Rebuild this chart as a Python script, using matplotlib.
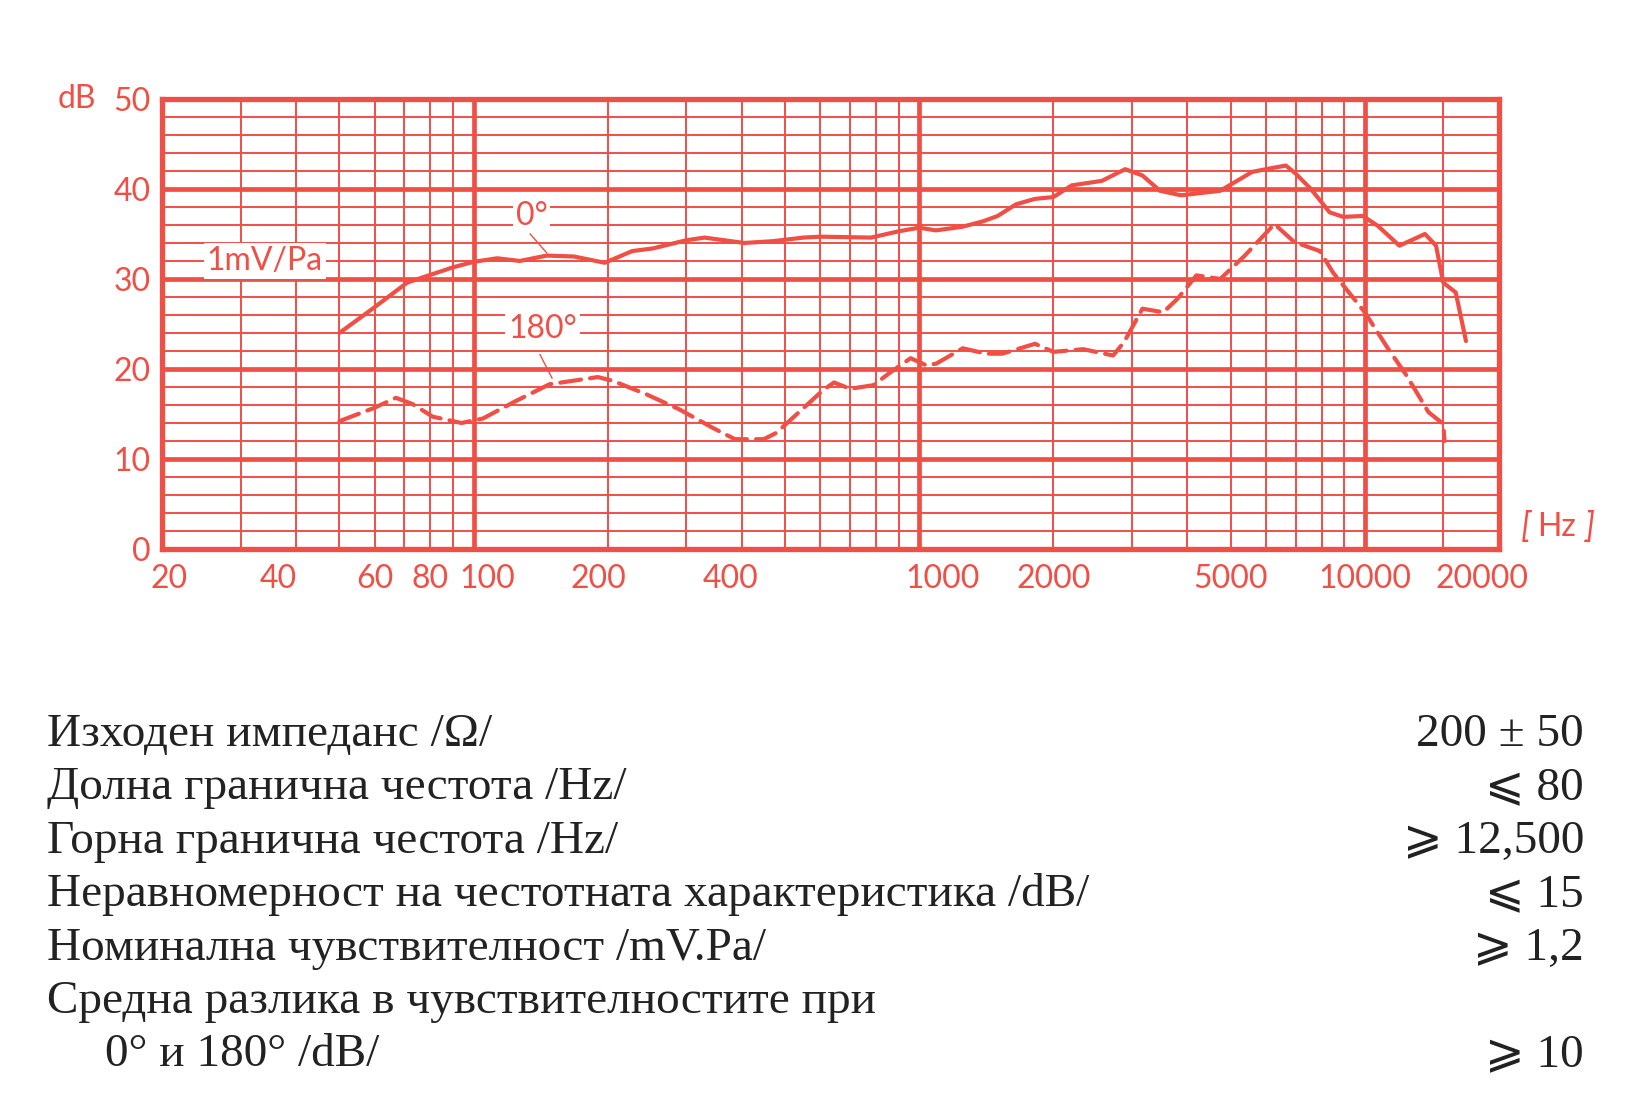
import matplotlib
matplotlib.use('Agg')
import matplotlib.pyplot as plt
import matplotlib.transforms as mtransforms
from matplotlib.ticker import NullLocator

RED = '#f04f46'
INK = '#222222'

# 0 deg response
freq_0 = [50, 59, 71, 90, 100, 113, 127, 146, 168, 197, 227, 253, 300, 330,
          405, 470, 550, 600, 780, 900, 1000, 1090, 1250, 1390, 1500, 1650,
          1820, 2000, 2200, 2570, 2900, 3170, 3470, 3870, 4740, 5590, 6150,
          6650, 7000, 7570, 8340, 8950, 9900, 10700, 11960, 13650, 14450,
          15000, 16000, 16870]
db_0 = [24.0, 26.6, 29.6, 31.3, 31.9, 32.3, 32.0, 32.6, 32.5, 31.8, 33.1,
        33.4, 34.3, 34.6, 34.0, 34.2, 34.6, 34.7, 34.6, 35.3, 35.7, 35.4,
        35.8, 36.4, 37.0, 38.3, 38.9, 39.1, 40.4, 40.9, 42.2, 41.5, 39.8,
        39.3, 39.8, 41.9, 42.3, 42.6, 41.7, 40.0, 37.4, 36.9, 37.0, 35.9,
        33.7, 35.0, 33.7, 29.6, 28.5, 23.1]

# 180 deg response
freq_180 = [50, 60, 67, 73, 81, 94, 105, 124, 148, 190, 205, 244, 290, 343,
            386, 448, 478, 543, 607, 644, 700, 790, 855, 957, 1038, 1093,
            1253, 1412, 1537, 1820, 2000, 2334, 2724, 2884, 3170, 3530, 3800,
            4190, 4740, 5380, 6270, 6950, 7930, 8490, 10000, 11300, 12400,
            13900, 15000, 15100]
db_180 = [14.2, 15.7, 16.8, 16.1, 14.7, 14.0, 14.5, 16.4, 18.3, 19.1, 18.7,
          17.2, 15.5, 13.5, 12.2, 12.2, 12.9, 15.4, 17.6, 18.5, 17.8, 18.2,
          19.5, 21.2, 20.4, 20.6, 22.3, 21.7, 21.7, 22.8, 21.9, 22.2, 21.5,
          23.0, 26.7, 26.3, 27.8, 30.4, 30.0, 32.6, 36.1, 34.1, 33.1, 30.7,
          26.3, 22.2, 19.3, 15.2, 13.9, 12.0]

x_ticks = [20, 40, 60, 80, 100, 200, 400, 1000, 2000, 5000, 10000, 20000]
y_ticks = [0, 10, 20, 30, 40, 50]

spec_names = ['Изходен импеданс /Ω/',
              'Долна гранична честота /Hz/',
              'Горна гранична честота /Hz/',
              'Неравномерност на честотната характеристика /dB/',
              'Номинална чувствителност /mV.Pa/',
              'Средна разлика в чувствителностите при',
              '0° и 180° /dB/']
spec_values = ['200 ± 50', '⩽ 80', '⩾ 12,500', '⩽ 15', '⩾ 1,2', '', '⩾ 10']

fig = plt.figure(figsize=(16.45, 11.17), dpi=100)
fig.patch.set_facecolor('white')
ax = fig.add_axes([0.0985, 0.5085, 0.8127, 0.4029])
ax.set_xscale('log')
ax.set_xlim(20, 20000)
ax.set_ylim(0, 50)

# chart paper grid
thin_f = [m * 10 ** d for d in (1, 2, 3) for m in range(2, 10) if m * 10 ** d > 20]
thin_f.append(15000)
for f in thin_f:
    ax.axvline(f, color=RED, lw=1.4, zorder=1)
for f in (100, 1000, 10000):
    ax.axvline(f, color=RED, lw=3.4, zorder=1)
for v in range(2, 50, 2):
    ax.axhline(v, color=RED, lw=3.4 if v % 10 == 0 else 1.4, zorder=1)

for s in ax.spines.values():
    s.set_color(RED)
    s.set_linewidth(3.8)
    s.set_zorder(5)

ax.plot(freq_0, db_0, color=RED, lw=3.0, solid_joinstyle='round',
        solid_capstyle='round', zorder=4)
ax.plot(freq_180, db_180, color=RED, lw=3.0, dashes=(5.0, 2.2),
        dash_capstyle='round', zorder=4)

chart_font = ['Lato', 'DejaVu Sans']
FS = 23
ax.xaxis.set_minor_locator(NullLocator())
ax.set_xticks(x_ticks)
ax.set_xticklabels([str(t) for t in x_ticks])
ax.set_yticks(y_ticks)
ax.set_yticklabels([str(t) for t in y_ticks])
ax.tick_params(length=0, labelsize=FS, labelcolor=RED)
ax.tick_params(axis='x', pad=11)
ax.tick_params(axis='y', pad=8)
for lab in ax.get_xticklabels() + ax.get_yticklabels():
    lab.set_fontfamily(chart_font)

# small nudges so labels sit like the printed paper
nudge = {'20': 5, '40': -13, '100': 10, '200': -7, '400': -8,
         '1000': 17, '20000': -12}
for lab in ax.get_xticklabels():
    dx = nudge.get(lab.get_text(), 0)
    if dx:
        lab.set_transform(lab.get_transform() +
                          mtransforms.ScaledTranslation(dx / 72, 0, fig.dpi_scale_trans))

ax.text(-0.049, 1.0, 'dB', transform=ax.transAxes, ha='right', va='center',
        fontsize=FS, color=RED, family=chart_font)
ax.text(1.043, 0.05, 'Hz', transform=ax.transAxes, ha='center', va='center',
        fontsize=FS, color=RED, family=chart_font)
ax.text(1.020, 0.05, '[', transform=ax.transAxes, ha='center', va='center',
        fontsize=FS + 2, color=RED, family=chart_font, style='italic')
ax.text(1.068, 0.05, ']', transform=ax.transAxes, ha='center', va='center',
        fontsize=FS + 2, color=RED, family=chart_font, style='italic')

box = dict(facecolor='white', edgecolor='none', pad=2)
ax.text(34, 32, '1mV/Pa', ha='center', va='center', fontsize=FS, color=RED,
        family=chart_font, bbox=box, zorder=3)
ax.text(135, 37.0, '0°', ha='center', va='center', fontsize=FS, color=RED,
        family=chart_font, bbox=box, zorder=3)
ax.text(143, 24.4, '180°', ha='center', va='center', fontsize=FS, color=RED,
        family=chart_font, bbox=box, zorder=3)
ax.plot([134, 146], [35.0, 32.9], color=RED, lw=1.0, zorder=3)
ax.plot([141, 150], [21.6, 19.0], color=RED, lw=1.0, zorder=3)

# specification table
text_font = ['Liberation Serif', 'DejaVu Serif', 'DejaVu Sans']
H = 1117.0
for i, (name, val) in enumerate(zip(spec_names, spec_values)):
    yb = 1 - (746 + 53.4 * i) / H
    x0 = 105 / 1645 if i == 6 else 47 / 1645
    fig.text(x0, yb, name, ha='left', va='baseline', fontsize=34,
             color=INK, family=text_font)
    if val:
        fig.text(1584 / 1645, yb, val, ha='right', va='baseline',
                 fontsize=34, color=INK, family=text_font)

fig.savefig('out.png', dpi=100)
